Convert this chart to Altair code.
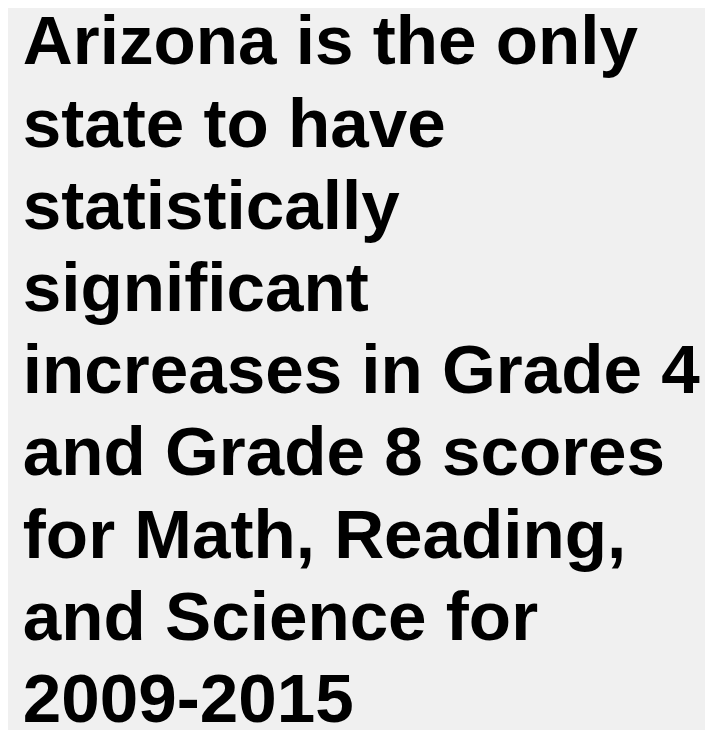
import altair as alt
import pandas as pd

lines = [
    "Arizona is the only",
    "state to have",
    "statistically",
    "significant",
    "increases in Grade 4",
    "and Grade 8 scores",
    "for Math, Reading,",
    "and Science for",
    "2009-2015",
]
line_index = list(range(len(lines)))

df = pd.DataFrame({"idx": line_index, "text": lines})

chart = (
    alt.Chart(df)
    .mark_text(
        font="Liberation Sans",
        fontWeight="bold",
        fontSize=70,
        align="left",
        baseline="alphabetic",
        color="#000000",
    )
    .encode(
        x=alt.value(15),
        y=alt.Y("idx:Q", scale=alt.Scale(domain=[0, 8], range=[53, 718]), axis=None),
        text="text:N",
    )
    .properties(width=705, height=722, background="#f0f0f0", padding=0,
                autosize=alt.AutoSizeParams(type="none"))
    .configure_view(stroke=None, fill="#f0f0f0")
)

chart.save("out.html", embed_options={"renderer": "svg", "actions": False})
